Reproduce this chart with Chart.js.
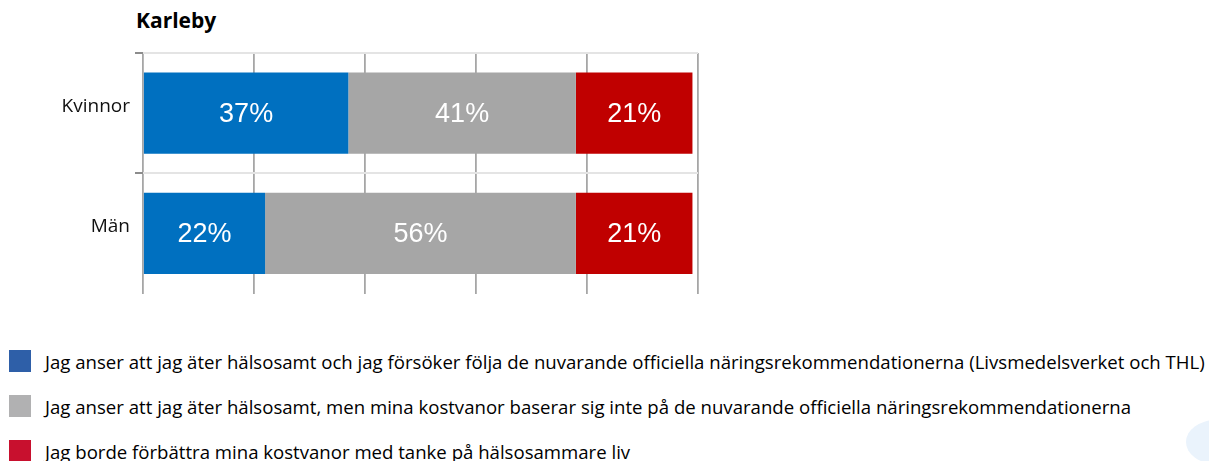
<!DOCTYPE html>
<html>
<head>
<meta charset="utf-8">
<script src="https://cdn.jsdelivr.net/npm/chart.js@4.4.1/dist/chart.umd.min.js"></script>
<style>
  html, body { margin: 0; padding: 0; background: #fff; }
  body { width: 1209px; height: 461px; position: relative; overflow: hidden; font-family: "Open Sans", sans-serif; }
  #title { position: absolute; left: 136px; top: 6px; font-size: 21px; font-weight: bold; color: #000; }
  #chartBox { position: absolute; left: 0; top: 0; width: 720px; height: 310px; }
  #legend { position: absolute; left: 9px; top: 350px; }
  .item { display: flex; align-items: center; height: 22px; margin-bottom: 23px; }
  .box { width: 22px; height: 22px; margin-right: 14px; }
  .text { font-size: 18.6px; color: #000; white-space: nowrap; }
  #blob { position: absolute; left: 1186px; top: 420px; width: 60px; height: 44px; border-radius: 50%; background: #eaf3fc; }
</style>
</head>
<body>
<div id="title">Karleby</div>
<div id="chartBox"><canvas id="chart"></canvas></div>
<div id="legend"></div>
<div id="blob"></div>
<script>
// ✅ Data
const categories = ["Kvinnor", "Män"];
const seriesNames = [
    "Jag anser att jag äter hälsosamt och jag försöker följa de nuvarande officiella näringsrekommendationerna (Livsmedelsverket och THL)",
    "Jag anser att jag äter hälsosamt, men mina kostvanor baserar sig inte på de nuvarande officiella näringsrekommendationerna",
    "Jag borde förbättra mina kostvanor med tanke på hälsosammare liv"
];
const healthyOfficial = [37, 22];
const healthyOwn = [41, 56];
const shouldImprove = [21, 21];
const xTicks = [0, 20, 40, 60, 80, 100];

const barColors = ["#0070C0", "#A6A6A6", "#C00000"];
const legendColors = ["#2E5FA8", "#B1B1B2", "#C8102E"];

// ✅ Percent labels inside bars
const barLabels = {
    id: "barLabels",
    afterDatasetsDraw(chart) {
        const ctx = chart.ctx;
        ctx.save();
        ctx.fillStyle = "#fff";
        ctx.font = "27px 'Liberation Sans', Arial, sans-serif";
        ctx.textAlign = "center";
        ctx.textBaseline = "middle";
        chart.data.datasets.forEach((ds, i) => {
            const meta = chart.getDatasetMeta(i);
            meta.data.forEach((bar, j) => {
                const cx = (bar.x + bar.base) / 2;
                ctx.fillText(ds.data[j] + "%", cx, bar.y + 1);
            });
        });
        ctx.restore();
    }
};

// only the lines above each category get drawn, not the closing one at the bottom
const onTick = (c, col) => (c.type === "tick" && c.index < categories.length) ? col : "rgba(0,0,0,0)";

const ctx = document.getElementById("chart").getContext("2d");
const chart = new Chart(ctx, {
    type: "bar",
    data: {
        labels: categories,
        datasets: [
            { label: seriesNames[0], data: healthyOfficial, backgroundColor: barColors[0] },
            { label: seriesNames[1], data: healthyOwn, backgroundColor: barColors[1] },
            { label: seriesNames[2], data: shouldImprove, backgroundColor: barColors[2] }
        ]
    },
    options: {
        indexAxis: "y",
        responsive: true,
        maintainAspectRatio: false,
        animation: false,
        barPercentage: 0.675,
        categoryPercentage: 1,
        layout: { padding: { top: 53, right: 22, bottom: 7, left: 0 } },
        scales: {
            x: {
                stacked: true,
                min: 0,
                max: 100,
                afterBuildTicks: (scale) => { scale.ticks = xTicks.map(v => ({ value: v })); },
                afterFit: (scale) => { scale.height = 0; },
                ticks: { display: false },
                border: { display: false },
                grid: { color: "#a6a6a6", lineWidth: 1.8, drawTicks: false }
            },
            y: {
                stacked: true,
                afterFit: (scale) => { scale.width = 143; },
                border: { display: false },
                grid: {
                    offset: true,
                    color: (c) => onTick(c, "#e4e4e4"),
                    tickColor: (c) => onTick(c, "#8c8c8c"),
                    lineWidth: 2,
                    tickLength: 8
                },
                ticks: {
                    color: "#111",
                    padding: 5,
                    labelOffset: -7,
                    font: { family: "'Open Sans', sans-serif", size: 19 }
                }
            }
        },
        plugins: {
            legend: { display: false },
            tooltip: { enabled: false }
        }
    },
    plugins: [barLabels]
});

// ✅ Legend
const legendEl = document.getElementById("legend");
seriesNames.forEach((name, i) => {
    const item = document.createElement("div");
    item.className = "item";
    item.innerHTML = `<div class="box" style="background:${legendColors[i]}"></div><div class="text">${name}</div>`;
    legendEl.appendChild(item);
});
</script>
</body>
</html>
